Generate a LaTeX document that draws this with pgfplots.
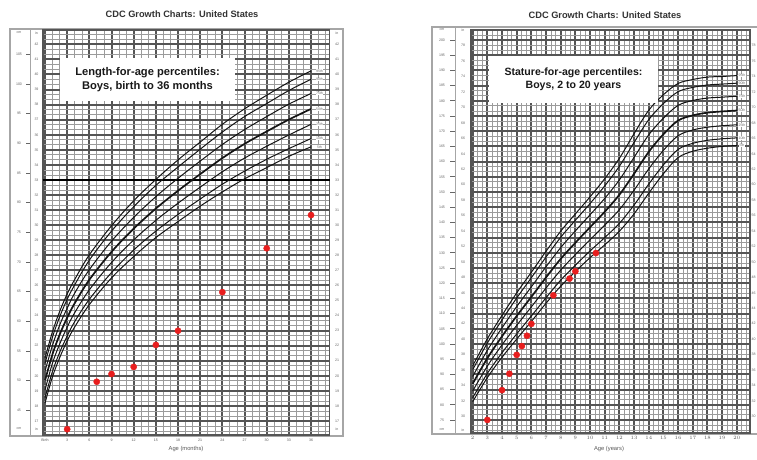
\documentclass[border=0pt]{standalone}
\usepackage{fontspec}
\setmainfont{Liberation Sans}
\usepackage{pgfplots}
\usepackage{pgfplotstable}
\pgfplotsset{compat=1.18}
\definecolor{dotred}{RGB}{232,30,30}
\definecolor{finegrid}{RGB}{155,155,155}
\definecolor{darkgrid}{RGB}{85,85,85}
\definecolor{curvecol}{RGB}{20,20,20}
\newcommand{\tinyfont}{\fontsize{3.6}{4}\selectfont}

% Length-for-age, boys, birth to 36 months (cm)
\pgfplotstableread{
age p5 p10 p25 p50 p75 p90 p95
0 46.2 47.1 48.4 50.0 51.6 52.9 53.8
1 50.6 51.5 52.9 54.4 55.9 57.3 58.2
2 53.9 54.8 56.2 57.8 59.4 60.8 61.7
3 56.7 57.5 59.0 60.6 62.2 63.7 64.6
4 59.0 59.9 61.4 63.0 64.7 66.1 67.0
6 62.8 63.7 65.3 67.0 68.7 70.3 71.2
9 67.3 68.2 69.9 71.7 73.5 75.2 76.1
12 70.9 72.0 73.7 75.6 77.5 79.3 80.3
15 74.1 75.2 77.0 79.0 81.0 82.9 83.9
18 76.8 78.0 79.9 82.0 84.1 86.0 87.2
21 79.4 80.6 82.6 84.8 87.0 89.0 90.2
24 81.8 83.1 85.2 87.5 89.8 91.9 93.2
27 84.0 85.3 87.5 89.9 92.3 94.5 95.8
30 85.9 87.3 89.5 92.0 94.5 96.7 98.1
33 87.8 89.1 91.4 94.0 96.6 98.9 100.3
36 89.4 90.8 93.2 95.8 98.4 100.8 102.2
}\lenage

% Stature-for-age, boys, 2 to 20 years (cm)
\pgfplotstableread{
age p5 p10 p25 p50 p75 p90 p95
2 81.0 82.3 84.5 86.9 89.3 91.5 92.8
3 88.9 90.3 92.7 95.3 97.9 100.3 101.7
4 95.6 97.1 99.7 102.5 105.3 107.9 109.4
5 101.6 103.3 106.1 109.2 112.3 115.1 116.8
6 107.4 109.2 112.2 115.5 118.8 121.8 123.6
7 113.4 115.2 118.4 121.9 125.4 128.6 130.5
8 119.0 121.0 124.3 128.0 131.7 135.1 137.1
9 123.8 125.9 129.4 133.3 137.2 140.7 142.8
10 128.4 130.6 134.3 138.4 142.5 146.2 148.4
11 132.6 135.0 139.1 143.5 147.9 152.0 154.4
12 137.1 139.7 144.2 149.1 154.0 158.5 161.1
13 142.8 145.7 150.6 156.0 161.4 166.3 169.2
14 149.6 152.6 157.6 163.2 168.8 173.8 176.9
15 156.0 158.9 163.7 169.0 174.3 179.1 182.0
16 161.3 164.0 168.5 173.5 178.5 183.0 185.7
17 163.4 166.0 170.4 175.2 180.1 184.4 187.0
18 164.4 167.0 171.3 176.1 180.9 185.2 187.8
19 165.0 167.5 171.8 176.5 181.2 185.5 188.0
20 165.3 167.8 172.1 176.8 181.5 185.8 188.3
}\statage

\pgfplotstableread{
age cm
3 41.8
7 49.8
9 51.1
12 52.3
15 56.0
18 58.4
24 64.9
30 72.3
36 77.9
}\leftdots

\pgfplotstableread{
age cm
3.0 75.0
4.0 84.8
4.5 90.2
5.0 96.4
5.35 99.3
5.7 102.7
6.0 106.6
7.5 116.0
8.6 121.5
9.0 123.9
10.4 129.9
}\rightdots

\pgfplotsset{
  growth/.style={
    scale only axis, anchor=south west, clip=false,
    grid=both,
    major grid style={darkgrid, line width=2.0bp},
    minor grid style={finegrid, line width=0.8bp},
    major tick length=0, minor tick length=0,
    axis line style={darkgrid, line width=1.6bp},
    yticklabels={},
    xticklabel style={font=\tinyfont, text=black!65, inner sep=0pt, yshift=-3.5bp},
  },
  pc/.style={curvecol, line width=1.0bp, smooth, tension=0.55},
  pcb/.style={curvecol, line width=1.7bp, smooth, tension=0.55},
  dots/.style={only marks, mark=*, mark size=3.1bp, mark options={draw=dotred, fill=dotred}},
}

\begin{document}
\begin{tikzpicture}
\useasboundingbox (0bp,0bp) rectangle (757bp,460bp);
\fill[white] (0bp,0bp) rectangle (757bp,460bp);

\begin{scope}[x=1bp,y=1bp]
% ---------- left chart frame and scales ----------
\draw[gray!70, line width=1.1bp] (10,24) rectangle (343,431);
\draw[gray!70, line width=0.8bp] (30,24) -- (30,431);
\foreach \c in {45,50,...,105} {
  \node[font=\tinyfont, text=black!60] at (19,{280-(83.82-\c)*5.93}) {\c};
  \draw[black!60, line width=0.6bp] (26,{280-(83.82-\c)*5.93}) -- (30,{280-(83.82-\c)*5.93});
}
\foreach \i in {17,...,42} {
  \node[font=\tinyfont, text=black!60] at (36.5,{280-(83.82-2.54*\i)*5.93}) {\i};
  \node[font=\tinyfont, text=black!60] at (337,{280-(83.82-2.54*\i)*5.93}) {\i};
}
\node[font=\tinyfont, text=black!60] at (19,427) {cm};
\node[font=\tinyfont, text=black!60] at (36.5,427) {in};
\node[font=\tinyfont, text=black!60] at (337,427) {in};
\node[font=\tinyfont, text=black!60] at (19,31) {cm};
\node[font=\tinyfont, text=black!60] at (36.5,31) {in};
\node[font=\tinyfont, text=black!60] at (337,31) {in};

% ---------- right chart frame and scales ----------
\draw[gray!70, line width=1.1bp] (756.5,26) -- (432,26) -- (432,433) -- (756.5,433);
\draw[gray!70, line width=0.8bp] (455,26) -- (455,433);
\foreach \c in {75,80,...,200} {
  \node[font=\tinyfont, text=black!60] at (442,{420-(200-\c)*3.04}) {\c};
  \draw[black!60, line width=0.6bp] (450,{420-(200-\c)*3.04}) -- (455,{420-(200-\c)*3.04});
}
\foreach \i in {30,32,...,78} {
  \node[font=\tinyfont, text=black!60] at (463,{420-(200-2.54*\i)*3.04}) {\i};
  \node[font=\tinyfont, text=black!60] at (753.5,{420-(200-2.54*\i)*3.04}) {\i};
}
\node[font=\tinyfont, text=black!60] at (442,430) {cm};
\node[font=\tinyfont, text=black!60] at (463,430) {in};
\node[font=\tinyfont, text=black!60] at (442,30) {cm};
\node[font=\tinyfont, text=black!60] at (463,30) {in};
\end{scope}

\begin{axis}[growth,
  at={(42.8bp,25bp)}, width=286.7bp, height=405bp,
  xmin=-0.3, xmax=38.5, ymin=40.82, ymax=109.1,
  xtick={0,3,...,36},
  xticklabels={Birth,3,6,9,12,15,18,21,24,27,30,33,36},
  minor xtick={1,4,...,37,2,5,...,38},
  ytick={43.18,45.72,...,106.7},
  minor ytick={41.4867,44.0267,...,108.5,42.3333,44.8733,...,109},
]
\draw[black, line width=2.2bp] (axis cs:-0.3,83.82) -- (axis cs:38.5,83.82);
\addplot[pc]  table[x=age,y=p5]  {\lenage};
\addplot[pc]  table[x=age,y=p10] {\lenage};
\addplot[pc]  table[x=age,y=p25] {\lenage};
\addplot[pcb] table[x=age,y=p50] {\lenage};
\addplot[pc]  table[x=age,y=p75] {\lenage};
\addplot[pc]  table[x=age,y=p90] {\lenage};
\addplot[pc]  table[x=age,y=p95] {\lenage};
\addplot[dots] table[x=age,y=cm] {\leftdots};
\end{axis}

\begin{axis}[growth,
  at={(471.2bp,27bp)}, width=278.8bp, height=403bp,
  xmin=1.9, xmax=20.9, ymin=70.7, ymax=203.3,
  xtick={2,...,20},
  minor xtick={2.3333,3.3333,...,20.5,2.6667,3.6667,...,20.8},
  ytick={75,80,...,200},
  minor ytick={71.6667,76.6667,...,203,73.3333,78.3333,...,203},
]
\addplot[pc]  table[x=age,y=p5]  {\statage};
\addplot[pc]  table[x=age,y=p10] {\statage};
\addplot[pc]  table[x=age,y=p25] {\statage};
\addplot[pcb] table[x=age,y=p50] {\statage};
\addplot[pc]  table[x=age,y=p75] {\statage};
\addplot[pc]  table[x=age,y=p90] {\statage};
\addplot[pc]  table[x=age,y=p95] {\statage};
\addplot[dots] table[x=age,y=cm] {\rightdots};
\end{axis}

\begin{scope}[x=1bp,y=1bp]
% percentile labels left
\foreach \v/\t in {102.2/95th,100.8/90th,98.4/75th,95.8/50th,93.2/25th,90.8/10th,89.4/5th} {
  \node[font=\tinyfont, text=black!55, fill=white, inner sep=0.4bp] at (319.5,{280-(83.82-\v)*5.93}) {\t};
}
\node[fill=white, minimum width=175bp, minimum height=43bp, align=center,
      font=\bfseries\fontsize{11.2}{14.5}\selectfont, text=black!90]
      at (147.5,380.5) {Length-for-age percentiles:\\Boys, birth to 36 months};
\node[font=\bfseries\fontsize{9.3}{11}\selectfont, text=black!80] at (182,446) {CDC Growth Charts: United States};
\node[font=\fontsize{5.8}{7}\selectfont, text=black!65] at (186,11) {Age (months)};

% percentile labels right
\foreach \v/\t in {188.3/95th,185.8/90th,181.5/75th,176.8/50th,172.1/25th,167.8/10th,165.3/5th} {
  \node[font=\tinyfont, text=black!55, fill=white, inner sep=0.4bp] at (742,{420-(200-\v)*3.04}) {\t};
}
\node[fill=white, minimum width=169bp, minimum height=47bp, align=center,
      font=\bfseries\fontsize{10.6}{13.5}\selectfont, text=black!90]
      at (573.5,380.5) {Stature-for-age percentiles:\\Boys, 2 to 20 years};
\node[font=\bfseries\fontsize{9.3}{11}\selectfont, text=black!80] at (605,445) {CDC Growth Charts: United States};
\node[font=\fontsize{5.8}{7}\selectfont, text=black!65] at (609,11) {Age (years)};
\end{scope}
\end{tikzpicture}
\end{document}
